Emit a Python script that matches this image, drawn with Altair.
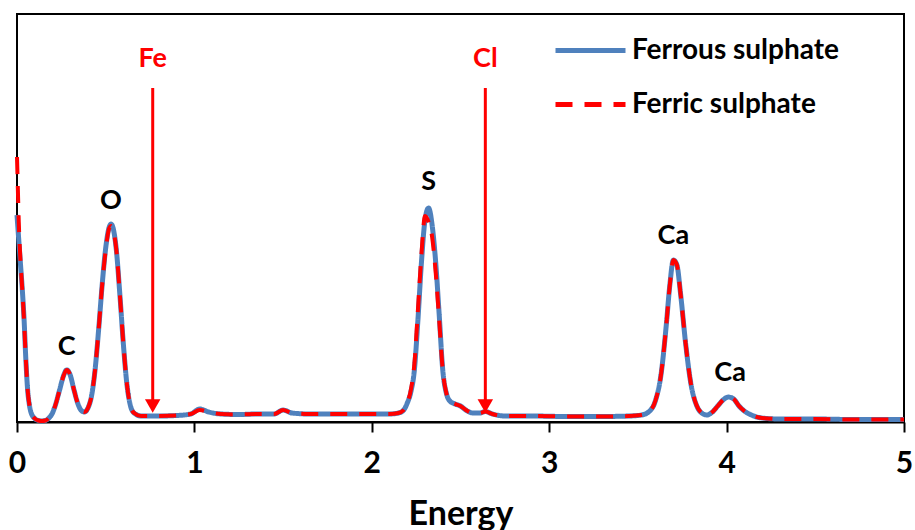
import altair as alt
import pandas as pd

# ---- data (energy, intensity in arbitrary counts) ----
energy_ferrous = [0.00, 0.01, 0.02, 0.03, 0.04, 0.05, 0.06, 0.07, 0.08, 0.10, 0.12, 0.14, 0.16, 0.18,
                  0.20, 0.22, 0.24, 0.26, 0.28, 0.30, 0.32, 0.34, 0.36, 0.38, 0.40, 0.42, 0.44, 0.46,
                  0.48, 0.50, 0.52, 0.53, 0.54, 0.56, 0.58, 0.60, 0.62, 0.64, 0.66, 0.70, 0.80, 0.90,
                  0.98, 1.03, 1.08, 1.15, 1.25, 1.35, 1.45, 1.50, 1.55, 1.65, 1.80, 1.95, 2.10, 2.15,
                  2.18, 2.20, 2.22, 2.24, 2.26, 2.28, 2.30, 2.32, 2.34, 2.36, 2.38, 2.40, 2.42, 2.44,
                  2.47, 2.50, 2.53, 2.57, 2.61, 2.64, 2.68, 2.75, 2.90, 3.10, 3.30, 3.45, 3.52, 3.56,
                  3.60, 3.63, 3.66, 3.68, 3.70, 3.72, 3.74, 3.77, 3.80, 3.83, 3.86, 3.89, 3.92, 3.95,
                  3.98, 4.01, 4.04, 4.07, 4.10, 4.14, 4.20, 4.30, 4.50, 4.70, 5.00]
counts_ferrous = [207, 182, 157, 132, 102, 62, 32, 17, 9, 3.5, 1.5, 1, 1.5, 4,
                  9, 19, 32, 45, 52, 47, 33, 20, 12, 10, 14, 26, 52, 92,
                  137, 174, 195, 198, 195, 172, 127, 77, 37, 16, 9, 6, 6, 6.5,
                  8, 13, 10, 8, 7.5, 8, 8, 12, 9, 8, 8, 8, 8, 9,
                  12, 19, 30, 52, 102, 160, 202, 214, 197, 160, 107, 52, 29, 21,
                  18, 16, 12, 9, 9, 10.5, 8, 6, 6, 5.5, 5.5, 6, 7, 10,
                  22, 47, 97, 137, 162, 157, 129, 77, 37, 17, 9, 7, 10, 16,
                  22, 25, 23, 16, 11, 7, 4, 3, 3, 2.5, 2.5]

energy_ferric = [0.00, 0.005, 0.01, 0.02, 0.03, 0.04, 0.05, 0.06, 0.07, 0.08, 0.10, 0.12, 0.14, 0.16,
                 0.18, 0.20, 0.22, 0.24, 0.26, 0.28, 0.30, 0.32, 0.34, 0.36, 0.38, 0.40, 0.42, 0.44,
                 0.46, 0.48, 0.50, 0.52, 0.53, 0.54, 0.56, 0.58, 0.60, 0.62, 0.64, 0.66, 0.70, 0.80,
                 0.90, 0.98, 1.03, 1.08, 1.15, 1.25, 1.35, 1.45, 1.50, 1.55, 1.65, 1.80, 1.95, 2.10,
                 2.15, 2.18, 2.20, 2.22, 2.24, 2.26, 2.28, 2.30, 2.32, 2.34, 2.36, 2.38, 2.40, 2.42,
                 2.44, 2.47, 2.50, 2.53, 2.57, 2.61, 2.64, 2.68, 2.75, 2.90, 3.10, 3.30, 3.45, 3.52,
                 3.56, 3.60, 3.63, 3.66, 3.68, 3.70, 3.72, 3.74, 3.77, 3.80, 3.83, 3.86, 3.89, 3.92,
                 3.95, 3.98, 4.01, 4.04, 4.07, 4.10, 4.14, 4.20, 4.30, 4.50, 4.70, 5.00]
counts_ferric = [265, 232, 200, 160, 132, 100, 62, 32, 17, 9, 3.5, 1.5, 1, 1.5,
                 4, 9, 19, 32, 45, 52, 47, 33, 20, 12, 10, 14, 26, 52,
                 92, 137, 172, 194, 196, 193, 172, 127, 77, 37, 16, 9, 6, 6,
                 6.5, 8, 12, 10, 8, 7.5, 8, 8, 12, 9, 8, 8, 8, 8,
                 9, 12, 19, 32, 58, 112, 168, 206, 200, 185, 150, 102, 52, 29,
                 21, 18, 16, 12, 9, 9, 10.5, 8, 6, 6, 5.5, 5.5, 6, 7,
                 10, 22, 47, 97, 137, 162, 157, 129, 77, 37, 17, 9, 7, 10,
                 16, 22, 25, 23, 16, 11, 7, 4, 3, 3, 2.5, 2.5]

series_names = ["Ferrous sulphate", "Ferric sulphate"]
series_colors = ["#4F81BD", "#FF0000"]

peak_labels = ["C", "O", "S", "Ca", "Ca"]
peak_energy = [0.28, 0.53, 2.32, 3.70, 4.02]
peak_label_level = [75, 221, 240, 186, 49]

marker_labels = ["Fe", "Cl"]
marker_energy = [0.765, 2.64]
marker_label_level = [363, 363]
marker_arrow_top = [334, 334]
marker_arrow_bottom = [18, 18]
marker_tip_level = [16, 16]

x_ticks = [0, 1, 2, 3, 4, 5]

FONT = "Lato"

spec_df = pd.concat([
    pd.DataFrame({"energy": energy_ferrous, "counts": counts_ferrous, "series": series_names[0]}),
    pd.DataFrame({"energy": energy_ferric, "counts": counts_ferric, "series": series_names[1]}),
])
peaks_df = pd.DataFrame({"label": peak_labels, "energy": peak_energy, "level": peak_label_level})
markers_df = pd.DataFrame({"label": marker_labels, "energy": marker_energy,
                           "labelLevel": marker_label_level, "top": marker_arrow_top,
                           "bottom": marker_arrow_bottom, "tip": marker_tip_level})

x_scale = alt.Scale(domain=[0, 5], nice=False, zero=False)
y_scale = alt.Scale(domain=[0, 408], nice=False)

x_enc = alt.X("energy:Q", scale=x_scale,
              axis=alt.Axis(title="Energy", values=x_ticks, format="d", grid=False,
                            domainColor="black", domainWidth=2, tickColor="black", tickWidth=2,
                            tickSize=10, labelFont=FONT, labelFontSize=30, labelFontWeight="bold",
                            labelColor="black", labelPadding=16, labelFlush=False,
                            labelOverlap=False, titleFont=FONT, titleFontSize=34,
                            titleFontWeight="bold", titleColor="black", titlePadding=19))

color_enc = alt.Color("series:N", scale=alt.Scale(domain=series_names, range=series_colors),
                      legend=alt.Legend(orient="none", legendX=536, legendY=-1, title=None,
                                        symbolType="stroke", symbolSize=4900, symbolStrokeWidth=5,
                                        labelFont=FONT, labelFontSize=28, labelFontWeight="bold",
                                        labelColor="black", labelOffset=4, rowPadding=2,
                                        labelLimit=0, padding=0))
dash_enc = alt.StrokeDash("series:N", scale=alt.Scale(domain=series_names,
                                                      range=[[1, 0], [17, 12]]), legend=None)

base = alt.Chart(spec_df)
blue = base.transform_filter(alt.datum.series == series_names[0]).mark_line(
    strokeWidth=5, interpolate="monotone").encode(
    x=x_enc, y=alt.Y("counts:Q", scale=y_scale, axis=None), color=color_enc, strokeDash=dash_enc,
    order="energy:Q")
red = base.transform_filter(alt.datum.series == series_names[1]).mark_line(
    strokeWidth=4, interpolate="monotone").encode(
    x="energy:Q", y="counts:Q", color=color_enc, strokeDash=dash_enc, order="energy:Q")

mk = alt.Chart(markers_df)
arrow_rules = mk.mark_rule(color="#FF0000", strokeWidth=3).encode(
    x="energy:Q", y="top:Q", y2="bottom:Q")
arrow_heads = mk.mark_point(shape="triangle-down", filled=True, fill="#FF0000",
                            color="#FF0000", size=240, opacity=1).encode(
    x="energy:Q", y="tip:Q")
marker_text = mk.mark_text(font=FONT, fontSize=27, fontWeight="bold", color="#FF0000",
                           align="center", baseline="middle").encode(
    x="energy:Q", y="labelLevel:Q", text="label:N")
peak_text = alt.Chart(peaks_df).mark_text(font=FONT, fontSize=27, fontWeight="bold",
                                          color="black", align="center",
                                          baseline="middle").encode(
    x="energy:Q", y="level:Q", text="label:N")

chart = alt.layer(blue, red, arrow_rules, arrow_heads, marker_text, peak_text).properties(
    width=887, height=408,
    padding={"left": 17, "top": 14, "right": 11, "bottom": 108},
    autosize=alt.AutoSizeParams(type="none"),
    background="white",
).configure_view(stroke="black", strokeWidth=2)

chart.save("out.html", embed_options={"renderer": "svg", "actions": False})
